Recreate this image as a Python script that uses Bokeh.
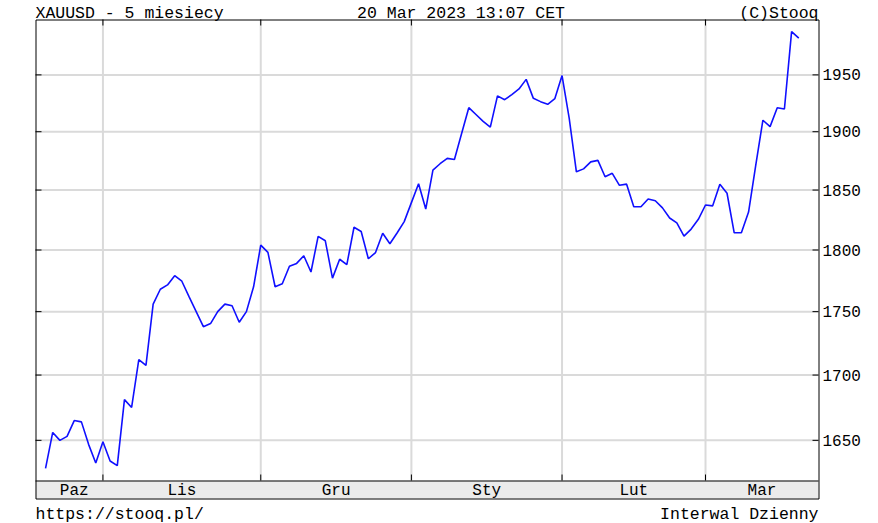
import math
from bokeh.plotting import figure
from bokeh.models import Range1d, LogScale
from bokeh.embed import file_html
from bokeh.resources import INLINE
from bokeh.core.properties import value

# ---- data (daily closes) ----
oct_vals = [1629, 1656, 1650, 1653, 1665, 1664, 1647, 1633]
nov_vals = [1649, 1634.5, 1631, 1681, 1675, 1712, 1707.5, 1756, 1768, 1771.5, 1779,
            1774.5, 1762, 1750, 1738, 1740.5, 1750, 1756, 1754.7, 1741.5, 1750, 1770]
dec_vals = [1804, 1798, 1770, 1772.5, 1786.7, 1789, 1795.3, 1782, 1811.3, 1807.6, 1777,
            1792.4, 1788, 1818.8, 1815.3, 1792.8, 1797.9, 1813.8, 1805.2, 1814, 1823.5]
jan_vals = [1839.4, 1855.4, 1834, 1867, 1872.4, 1877, 1876, 1898.5, 1921, 1915, 1909,
            1904, 1931.4, 1928, 1932.5, 1937.5, 1946, 1929.2, 1926.3, 1924, 1929]
feb_vals = [1949.4, 1911.6, 1865.5, 1868, 1874, 1875.3, 1861.3, 1864.2, 1854, 1855,
            1836, 1836, 1842.5, 1841, 1835, 1826.5, 1822.4, 1811.5, 1817.3, 1825.4]
mar_vals = [1837.4, 1836.7, 1855, 1847.3, 1814.2, 1814.2, 1831.5, 1871, 1910, 1904.4,
            1921, 1919.8, 1989, 1983]

month_series = [oct_vals, nov_vals, dec_vals, jan_vals, feb_vals, mar_vals]
month_names = ["Paz", "Lis", "Gru", "Sty", "Lut", "Mar"]
y_ticks = [1650, 1700, 1750, 1800, 1850, 1900, 1950]
y_labels = [str(t) for t in y_ticks]

header_texts = ["XAUUSD - 5 miesiecy", "20 Mar 2023 13:07 CET", "(C)Stooq"]
footer_texts = ["https://stooq.pl/", "Interwal Dzienny"]

# ---- derived ----
values = [v for m in month_series for v in m]
idx = list(range(len(values)))
month_starts = []
n = 0
for m in month_series:
    month_starts.append(n)
    n += len(m)

# ---- layout (page pixels) ----
W, H = 878, 523
FL, FR, FT, FB = 35, 818, 19, 498      # frame box
SPLIT = 480                            # top of the month band
TICK = 6
HEAD_BASE, FOOT_BASE = 13, 514

# index axis: where the data sits inside the frame
X_START, X_END = -1.4, 107.75
PX_X = (FR - FL) / (X_END - X_START)
XI0 = X_START - FL / PX_X
XI1 = X_END + (W - FR) / PX_X

# price axis (log): 2000 at the frame top, 1620 at the band top
Y_TOP, Y_SPLIT = 2000.0, 1620.0
PX_LN = (SPLIT - FT) / math.log(Y_TOP / Y_SPLIT)
YP_HI = Y_TOP * math.exp(FT / PX_LN)
YP_LO = Y_TOP * math.exp(-(H - FT) / PX_LN)

FONT = "Liberation Mono"
GRID = "#dadada"

p = figure(width=W, height=H, output_backend="svg", toolbar_location=None,
           x_range=Range1d(0, W), y_range=Range1d(H, 0),
           x_axis_location=None, y_axis_location=None,
           min_border=0, min_border_left=0, min_border_right=0,
           min_border_top=0, min_border_bottom=0,
           background_fill_color="white", border_fill_color="white",
           styles={"position": "absolute", "left": "0px", "top": "0px"})
p.outline_line_color = None
p.grid.visible = False
p.extra_x_ranges = {"idx": Range1d(XI0, XI1)}
p.extra_y_ranges = {"price": Range1d(YP_LO, YP_HI)}
p.extra_y_scales = {"price": LogScale()}

# month band
p.quad(left=FL, right=FR, top=SPLIT, bottom=FB, fill_color="#ebebeb", line_color=None)

# horizontal grid + inward ticks on both sides
ny = len(y_ticks)
p.segment(x0=[FL] * ny, x1=[FR] * ny, y0=y_ticks, y1=y_ticks, y_range_name="price",
          line_color=GRID, line_width=2)
p.segment(x0=[FL] * ny, x1=[FL + TICK] * ny, y0=y_ticks, y1=y_ticks, y_range_name="price",
          line_color="black", line_width=1)
p.segment(x0=[FR - TICK] * ny, x1=[FR] * ny, y0=y_ticks, y1=y_ticks, y_range_name="price",
          line_color="black", line_width=1)

# vertical grid at month starts + inward ticks top and bottom
gx = month_starts[1:]
ng = len(gx)
p.segment(x0=gx, x1=gx, y0=[FT] * ng, y1=[SPLIT] * ng, x_range_name="idx",
          line_color=GRID, line_width=2)
p.segment(x0=gx, x1=gx, y0=[FT] * ng, y1=[FT + TICK] * ng, x_range_name="idx",
          line_color="black", line_width=1)
p.segment(x0=gx, x1=gx, y0=[SPLIT - TICK] * ng, y1=[SPLIT] * ng, x_range_name="idx",
          line_color="black", line_width=1)

# frame and band border
p.quad(left=FL + 0.5, right=FR + 0.5, top=FT + 0.5, bottom=FB + 0.5,
       fill_color=None, line_color="black", line_width=1)
p.segment(x0=[FL], x1=[FR], y0=[SPLIT + 0.5], y1=[SPLIT + 0.5], line_color="black", line_width=1)

# price line
p.line(x=idx, y=values, x_range_name="idx", y_range_name="price",
       line_color="#1010ff", line_width=1.6)

# y tick labels (right)
p.text(x=[FR + 4] * ny, y=y_ticks, text=y_labels, y_range_name="price",
       text_align="left", text_baseline="middle", text_font=value(FONT),
       text_font_size="16px", text_color="black")

# month labels in the band
bounds = month_starts + [X_END]
mids = [(bounds[i] + bounds[i + 1]) / 2 for i in range(len(month_names))]
p.text(x=mids, y=[(SPLIT + FB) / 2 + 1] * len(mids), text=month_names, x_range_name="idx",
       text_align="center", text_baseline="middle", text_font=value(FONT),
       text_font_size="16px", text_color="black")

# header / footer
p.text(x=[FL, 460.5, FR], y=[HEAD_BASE] * 3, text=header_texts,
       text_align=["left", "center", "right"], text_baseline="alphabetic",
       text_font=value(FONT), text_font_size="16.5px", text_color="black")
p.text(x=[FL, FR], y=[FOOT_BASE] * 2, text=footer_texts,
       text_align=["left", "right"], text_baseline="alphabetic",
       text_font=value(FONT), text_font_size="16.5px", text_color="black")

open("out.html", "w").write(file_html(p, INLINE))
